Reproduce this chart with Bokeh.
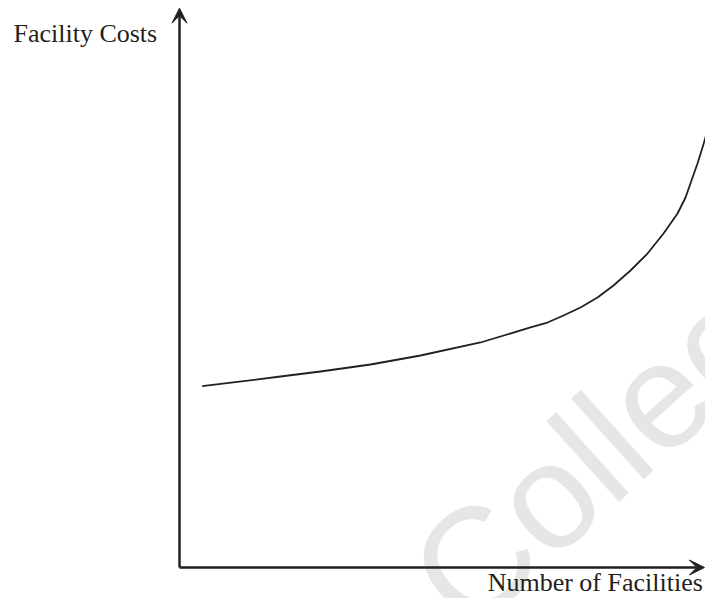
from bokeh.plotting import figure
from bokeh.models import Arrow, VeeHead, Label, ColumnDataSource
from bokeh.embed import file_html
from bokeh.resources import INLINE

# ---- data (abstract units: number of facilities 0..10, facility costs 0..10) ----
facilities = [0.425, 1.891, 2.640, 3.577, 4.513, 5.637, 6.573, 6.891, 7.191, 7.509,
              7.828, 8.127, 8.446, 8.764, 9.064, 9.326, 9.476, 9.588, 9.700, 9.794,
              9.888, 9.944, 10.0]
costs = [3.261, 3.435, 3.525, 3.651, 3.813, 4.047, 4.317, 4.406, 4.532, 4.676,
         4.856, 5.072, 5.342, 5.647, 6.007, 6.367, 6.655, 6.960, 7.266, 7.554,
         7.860, 8.094, 8.363]

x_label = "Number of Facilities"
y_label = "Facility Costs"
watermark = "Collec"

INK = "#231f20"

p = figure(width=705, height=598,
           x_range=(-3.352, 9.850), y_range=(-0.5576, 10.198),
           x_axis_type=None, y_axis_type=None,
           output_backend="svg", toolbar_location=None, min_border=0)
p.grid.visible = False
p.outline_line_color = None
p.background_fill_color = "white"
p.border_fill_color = "white"

# watermark
p.add_layout(Label(x=490, y=-62, x_units="screen", y_units="screen",
                   text=watermark, angle=42, angle_units="deg",
                   text_font="Liberation Sans", text_font_size="150px",
                   text_color="#e6e6e6", level="underlay"))

# axes as arrows
p.add_layout(Arrow(end=VeeHead(size=15, fill_color=INK, line_color=INK, line_width=1),
                   x_start=0, y_start=0, x_end=0, y_end=10.06,
                   line_color=INK, line_width=2.5))
p.add_layout(Arrow(end=VeeHead(size=15, fill_color=INK, line_color=INK, line_width=1),
                   x_start=0, y_start=0, x_end=9.83, y_end=0,
                   line_color=INK, line_width=2.5))

src = ColumnDataSource(dict(x=facilities, y=costs))
p.line("x", "y", source=src, line_color=INK, line_width=1.8, line_join="round")

p.add_layout(Label(x=-3.109, y=9.61, text=y_label, text_font="Liberation Serif",
                   text_font_size="26px", text_color=INK, text_baseline="alphabetic"))
p.add_layout(Label(x=9.80, y=-0.27, text=x_label, text_font="Liberation Serif",
                   text_font_size="26px", text_color=INK, text_align="right",
                   text_baseline="alphabetic"))

open("out.html", "w").write(file_html(p, INLINE))
